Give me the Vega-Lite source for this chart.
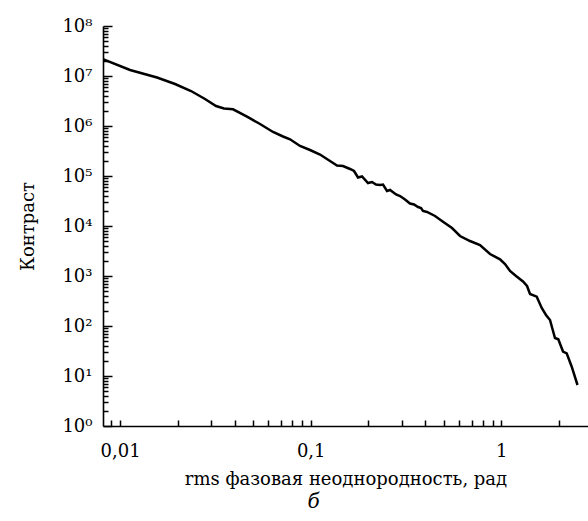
{
  "$schema": "https://vega.github.io/schema/vega-lite/v6.json",
  "width": 485,
  "height": 400,
  "autosize": {"type": "none"},
  "padding": {"left": 103, "top": 26, "right": 0, "bottom": 95},
  "background": "white",
  "title": {"text": "б", "orient": "bottom", "anchor": "middle", "dx": -32, "offset": 4, "font": "DejaVu Serif", "fontStyle": "italic", "fontWeight": "normal", "fontSize": 20, "color": "black"},
  "config": {
    "view": {"stroke": null},
    "axis": {
      "grid": false,
      "ticks": true,
      "domainColor": "black",
      "domainWidth": 1.6,
      "tickColor": "black",
      "tickWidth": 1.5,
      "labelFont": "DejaVu Serif",
      "labelFontSize": 18,
      "labelColor": "black",
      "titleFont": "DejaVu Serif",
      "titleFontSize": 18,
      "titleFontWeight": "normal",
      "titleColor": "black",
      "labelOverlap": false,
      "labelFlush": false
    }
  },
  "data": {
    "values": [
      {"rms": 0.00818, "contrast": 21580000},
      {"rms": 0.011272, "contrast": 13180000},
      {"rms": 0.015615, "contrast": 9333000},
      {"rms": 0.019409, "contrast": 6918000},
      {"rms": 0.02355, "contrast": 5012000},
      {"rms": 0.027878, "contrast": 3467000},
      {"rms": 0.031852, "contrast": 2512000},
      {"rms": 0.035084, "contrast": 2239000},
      {"rms": 0.039121, "contrast": 2158000},
      {"rms": 0.046326, "contrast": 1535000},
      {"rms": 0.0542, "contrast": 1096000},
      {"rms": 0.06342, "contrast": 758600},
      {"rms": 0.071565, "contrast": 616600},
      {"rms": 0.07789, "contrast": 542000},
      {"rms": 0.087887, "contrast": 398100},
      {"rms": 0.099156, "contrast": 331100},
      {"rms": 0.11187, "contrast": 269200},
      {"rms": 0.12623, "contrast": 199500},
      {"rms": 0.1374, "contrast": 162200},
      {"rms": 0.14772, "contrast": 158500},
      {"rms": 0.16079, "contrast": 138000},
      {"rms": 0.16875, "contrast": 125900},
      {"rms": 0.17708, "contrast": 93330},
      {"rms": 0.18585, "contrast": 97720},
      {"rms": 0.1998, "contrast": 72440},
      {"rms": 0.20969, "contrast": 75860},
      {"rms": 0.22008, "contrast": 67610},
      {"rms": 0.23099, "contrast": 66070},
      {"rms": 0.2395, "contrast": 67610},
      {"rms": 0.25136, "contrast": 50120},
      {"rms": 0.26064, "contrast": 52480},
      {"rms": 0.28038, "contrast": 42660},
      {"rms": 0.29415, "contrast": 39810},
      {"rms": 0.31246, "contrast": 33880},
      {"rms": 0.33189, "contrast": 28180},
      {"rms": 0.34834, "contrast": 26920},
      {"rms": 0.36559, "contrast": 23990},
      {"rms": 0.37904, "contrast": 22910},
      {"rms": 0.38832, "contrast": 19950},
      {"rms": 0.40755, "contrast": 19050},
      {"rms": 0.44894, "contrast": 15850},
      {"rms": 0.49431, "contrast": 12190},
      {"rms": 0.55121, "contrast": 9120},
      {"rms": 0.60714, "contrast": 6310},
      {"rms": 0.68502, "contrast": 5012},
      {"rms": 0.77311, "contrast": 4169},
      {"rms": 0.87244, "contrast": 2754},
      {"rms": 0.98443, "contrast": 2158},
      {"rms": 1.0457, "contrast": 1738},
      {"rms": 1.1108, "contrast": 1259},
      {"rms": 1.1944, "contrast": 1000},
      {"rms": 1.2998, "contrast": 776.2},
      {"rms": 1.3643, "contrast": 631},
      {"rms": 1.4146, "contrast": 436.5},
      {"rms": 1.534, "contrast": 385.5},
      {"rms": 1.6293, "contrast": 229.1},
      {"rms": 1.716, "contrast": 166},
      {"rms": 1.8009, "contrast": 131.8},
      {"rms": 1.9125, "contrast": 57.54},
      {"rms": 1.9908, "contrast": 54.2},
      {"rms": 2.1074, "contrast": 30.9},
      {"rms": 2.2035, "contrast": 28.44},
      {"rms": 2.3409, "contrast": 15.35},
      {"rms": 2.5106, "contrast": 6.607}
    ]
  },
  "mark": {"type": "line", "color": "black", "strokeWidth": 2.5, "clip": true},
  "encoding": {
    "x": {
      "field": "rms",
      "type": "quantitative",
      "scale": {"type": "log", "domain": [0.00813, 2.85], "nice": false},
      "axis": {
        "title": "rms фазовая неоднородность, рад",
        "titlePadding": 10,
        "values": [0.009, 0.01, 0.02, 0.03, 0.04, 0.05, 0.06, 0.07, 0.08, 0.09, 0.1, 0.2, 0.3, 0.4, 0.5, 0.6, 0.7, 0.8, 0.9, 1, 2],
        "labelExpr": "datum.value == 0.01 ? '0,01' : datum.value == 0.1 ? '0,1' : datum.value == 1 ? '1' : ''",
        "tickSize": -6,
        "labelPadding": 22
      }
    },
    "y": {
      "field": "contrast",
      "type": "quantitative",
      "scale": {"type": "log", "domain": [1, 100000000], "nice": false},
      "axis": {
        "title": "Контраст",
        "titlePadding": 24,
        "values": [1, 2, 3, 4, 5, 6, 7, 8, 9, 10, 20, 30, 40, 50, 60, 70, 80, 90, 100, 200, 300, 400, 500, 600, 700, 800, 900, 1000, 2000, 3000, 4000, 5000, 6000, 7000, 8000, 9000, 10000, 20000, 30000, 40000, 50000, 60000, 70000, 80000, 90000, 100000, 200000, 300000, 400000, 500000, 600000, 700000, 800000, 900000, 1000000, 2000000, 3000000, 4000000, 5000000, 6000000, 7000000, 8000000, 9000000, 10000000, 20000000, 30000000, 40000000, 50000000, 60000000, 70000000, 80000000, 90000000, 100000000],
        "labelExpr": "abs(log(datum.value)/LN10 - round(log(datum.value)/LN10)) < 0.000001 ? '10' + slice('⁰¹²³⁴⁵⁶⁷⁸⁹', round(log(datum.value)/LN10), round(log(datum.value)/LN10) + 1) : ''",
        "tickSize": {"condition": {"test": "abs(log(datum.value)/LN10 - round(log(datum.value)/LN10)) < 0.000001", "value": -9}, "value": -5},
        "labelPadding": 20
      }
    }
  }
}
